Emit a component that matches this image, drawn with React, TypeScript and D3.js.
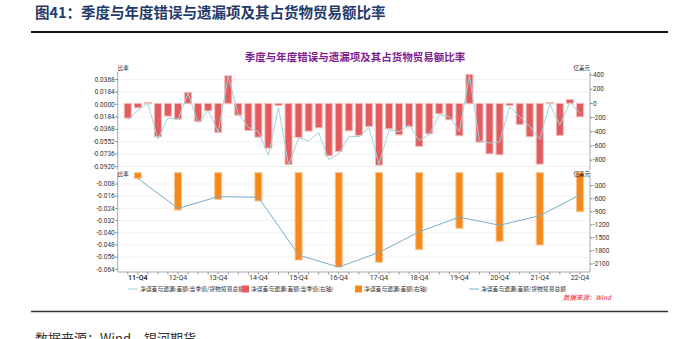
import React from "react";
import * as d3 from "d3";

const quarters = [
  "11-Q3","11-Q4","12-Q1","12-Q2","12-Q3","12-Q4","13-Q1","13-Q2","13-Q3","13-Q4",
  "14-Q1","14-Q2","14-Q3","14-Q4","15-Q1","15-Q2","15-Q3","15-Q4","16-Q1","16-Q2",
  "16-Q3","16-Q4","17-Q1","17-Q2","17-Q3","17-Q4","18-Q1","18-Q2","18-Q3","18-Q4",
  "19-Q1","19-Q2","19-Q3","19-Q4","20-Q1","20-Q2","20-Q3","20-Q4","21-Q1","21-Q2",
  "21-Q3","21-Q4","22-Q1","22-Q2","22-Q3","22-Q4",
];
const quarterlyNet = [
  -207, -62, 14, -470, -179, -221, 155, -254, -104, -408,
  389, -165, -380, -475, -630, -28, -859, -479, -390, -343,
  -738, -676, -386, -450, -324, -869, -357, -442, -329, -605,
  -428, -146, -231, -456, 408, -545, -710, -724, -28, -296,
  -470, -855, 12, -450, 56, -189,
];
const quarterlyRatio = [
  -0.0231, -0.0083, 0.0015, -0.0512, -0.0201, -0.0222, 0.0163, -0.0275, -0.0093, -0.0409,
  0.0414, -0.0142, -0.034, -0.0404, -0.0755, -0.0044, -0.0903, -0.0497, -0.0542, -0.0419,
  -0.0818, -0.0734, -0.0474, -0.0478, -0.0345, -0.0882, -0.0379, -0.0404, -0.0305, -0.0537,
  -0.0449, -0.0152, -0.0178, -0.040, 0.0425, -0.0537, -0.0571, -0.0556, -0.0034, -0.018,
  -0.0326, -0.0518, 0.0005, -0.0305, 0.003, -0.0133,
];
const years = ["11-Q4","12-Q4","13-Q4","14-Q4","15-Q4","16-Q4","17-Q4","18-Q4","19-Q4","20-Q4","21-Q4","22-Q4"];
const annualNet = [-131, -859, -613, -652, -2008, -2169, -2061, -1770, -1280, -1578, -1663, -897];
const annualRatio = [-0.0043, -0.024, -0.0163, -0.0167, -0.0546, -0.0626, -0.0529, -0.0394, -0.0297, -0.0351, -0.0288, -0.0152];

const topLeftTicks = [0.0368, 0.0184, 0, -0.0184, -0.0368, -0.0552, -0.0736, -0.092];
const topRightTicks = [400, 200, 0, -200, -400, -600, -800];
const botLeftTicks = [-0.008, -0.016, -0.024, -0.032, -0.04, -0.048, -0.056, -0.064];
const botRightTicks = [-300, -600, -900, -1200, -1500, -1800, -2100];

const legendItems = [
  { type: "line", color: "#9fd4d8", label: "净误差与遗漏:差额:当季值/货物贸易总额" },
  { type: "rect", color: "#e15b5f", label: "净误差与遗漏:差额:当季值(右轴)" },
  { type: "rect", color: "#f7891c", label: "净误差与遗漏:差额(右轴)" },
  { type: "line", color: "#78aecb", label: "净误差与遗漏:差额/货物贸易总额" },
];

const SANS = "'Noto Sans CJK SC', 'Noto Sans', sans-serif";

export default function App() {
  const xL = 117.7, xR = 590;
  const x = d3.scaleLinear().domain([-1, 46]).range([xL, xR]);
  const idx = (q: string) => quarters.indexOf(q);

  const tTop = 72, tBot = 170, bTop = 172, bBot = 272;
  const yTL = d3.scaleLinear().domain([0.0368, -0.092]).range([79.5, 166.5]);
  const yTR = d3.scaleLinear().domain([400, -800]).range([75, 160.2]);
  const yBL = d3.scaleLinear().domain([-0.008, -0.064]).range([184, 269.3]);
  const yBR = d3.scaleLinear().domain([-300, -2100]).range([185.7, 264]);

  const bw = 7;
  const topLine = d3.line<number>().x((_, i) => x(i)).y((d) => yTL(d))(quarterlyRatio) || "";
  const botLine = d3.line<number>().x((_, i) => x(idx(years[i]))).y((d) => yBL(d))(annualRatio) || "";

  const tickFont = { fontSize: 6.5, fontFamily: "Roboto, 'Noto Sans', sans-serif", fill: "#333" } as const;

  const legendX = [128, 242, 355, 469];

  return (
    <svg width={681} height={339} style={{ position: "absolute", left: 0, top: 0, background: "#fff" }}>
      {/* header */}
      <text x={35} y={17.5} fontSize={14.5} fontWeight="bold" fill="#1f3a6b" fontFamily={SANS}>
        图41：季度与年度错误与遗漏项及其占货物贸易额比率
      </text>
      <line x1={31} x2={668} y1={32} y2={32} stroke="#111" strokeWidth={2} />

      {/* chart title */}
      <text x={355} y={61} textAnchor="middle" fontSize={10.5} fontWeight="bold" fill="#7f1f8f" fontFamily={SANS}>
        季度与年度错误与遗漏项及其占货物贸易额比率
      </text>

      {/* grid */}
      {topLeftTicks.map((t) => (
        <line key={"gt" + t} x1={xL} x2={xR} y1={yTL(t)} y2={yTL(t)} stroke="#f1f1f1" />
      ))}
      {botLeftTicks.map((t) => (
        <line key={"gb" + t} x1={xL} x2={xR} y1={yBL(t)} y2={yBL(t)} stroke="#f1f1f1" />
      ))}

      {/* top bars */}
      {quarterlyNet.map((v, i) => {
        const y0 = yTR(0), y1 = yTR(v);
        const h = Math.max(Math.abs(y1 - y0), 0.8);
        return (
          <rect key={"qb" + i} x={x(i) - bw / 2} y={Math.min(y0, y1)} width={bw} height={h}
            fill="#e15b5f" stroke="#f6b9b9" strokeWidth={1} />
        );
      })}
      <path d={topLine} fill="none" stroke="#9fd4d8" strokeWidth={1} />

      {/* bottom bars */}
      {annualNet.map((v, i) => {
        const xi = x(idx(years[i]));
        const y0 = yBR(0), y1 = yBR(v);
        return (
          <rect key={"ab" + i} x={xi - bw / 2} y={Math.min(y0, y1)} width={bw} height={Math.abs(y1 - y0)}
            fill="#f7891c" stroke="#fbc48c" strokeWidth={1} />
        );
      })}
      <path d={botLine} fill="none" stroke="#78aecb" strokeWidth={1} />

      {/* axes lines */}
      <line x1={xL} x2={xL} y1={tTop} y2={tBot} stroke="#aaa" />
      <line x1={xR} x2={xR} y1={tTop} y2={tBot} stroke="#aaa" />
      <line x1={xL} x2={xL} y1={bTop} y2={bBot} stroke="#aaa" />
      <line x1={xR} x2={xR} y1={bTop} y2={bBot} stroke="#aaa" />
      <line x1={xL} x2={xR} y1={bBot} y2={bBot} stroke="#aaa" />

      {/* axis titles */}
      <text x={xL} y={70} fontSize={5.5} fill="#222" fontFamily={SANS}>比率</text>
      <text x={xR} y={70} fontSize={5.5} fill="#222" textAnchor="end" fontFamily={SANS}>亿美元</text>
      <text x={xL} y={176} fontSize={5.5} fill="#222" fontFamily={SANS}>比率</text>
      <text x={xR} y={176} fontSize={5.5} fill="#222" textAnchor="end" fontFamily={SANS}>亿美元</text>

      {/* left ticks */}
      {topLeftTicks.map((t) => (
        <g key={"tl" + t}>
          <line x1={xL - 2.5} x2={xL} y1={yTL(t)} y2={yTL(t)} stroke="#888" />
          <text x={xL - 3} y={yTL(t)} dy="0.35em" textAnchor="end" {...tickFont}>
            {d3.format(".4f")(t).replace("−", "-")}
          </text>
        </g>
      ))}
      {botLeftTicks.map((t) => (
        <g key={"bl" + t}>
          <line x1={xL - 2.5} x2={xL} y1={yBL(t)} y2={yBL(t)} stroke="#888" />
          <text x={xL - 3} y={yBL(t)} dy="0.35em" textAnchor="end" {...tickFont}>
            {d3.format(".3f")(t).replace("−", "-")}
          </text>
        </g>
      ))}
      {/* right ticks */}
      {topRightTicks.map((t) => (
        <g key={"tr" + t}>
          <line x1={xR} x2={xR + 2.5} y1={yTR(t)} y2={yTR(t)} stroke="#888" />
          <text x={xR + 3} y={yTR(t)} dy="0.35em" {...tickFont}>{String(t)}</text>
        </g>
      ))}
      {botRightTicks.map((t) => (
        <g key={"br" + t}>
          <line x1={xR} x2={xR + 2.5} y1={yBR(t)} y2={yBR(t)} stroke="#888" />
          <text x={xR + 3} y={yBR(t)} dy="0.35em" {...tickFont}>{String(t)}</text>
        </g>
      ))}

      {/* x ticks */}
      {quarters.map((q, i) => (
        <line key={"xt" + q} x1={x(i)} x2={x(i)} y1={bBot} y2={bBot + 2.5} stroke="#999" />
      ))}
      {years.map((q, i) => (
        <text key={"xl" + q} x={x(idx(q))} y={280} textAnchor="middle" fontSize={7}
          fontWeight={i === 0 ? "bold" : "normal"} fill="#333" fontFamily="Roboto, 'Noto Sans', sans-serif">
          {q}
        </text>
      ))}

      {/* legend */}
      {legendItems.map((it, i) => (
        <g key={"lg" + i} transform={`translate(${legendX[i]},289)`}>
          {it.type === "line" ? (
            <line x1={0} x2={10} y1={0} y2={0} stroke={it.color} strokeWidth={1} />
          ) : (
            <rect x={0} y={-3.5} width={7} height={7} fill={it.color} />
          )}
          <text x={it.type === "line" ? 12 : 9} y={0} dy="0.35em" fontSize={5.8} fill="#333" fontFamily={SANS}>
            {it.label}
          </text>
        </g>
      ))}

      <text x={563} y={300} fontSize={6.5} fill="#e8212b" fontStyle="italic" fontFamily={SANS}>数据来源：Wind</text>

      <line x1={31} x2={668} y1={311.5} y2={311.5} stroke="#333" strokeWidth={1.5} />
      <text x={35} y={343} fontSize={13} fill="#333" fontFamily={SANS}>数据来源：Wind，银河期货</text>
    </svg>
  );
}
